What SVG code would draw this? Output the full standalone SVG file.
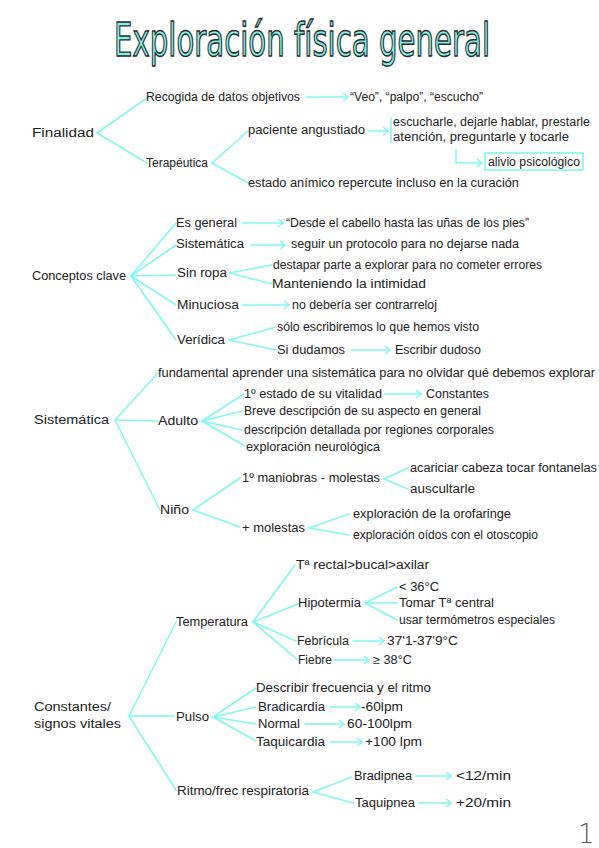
<svg xmlns="http://www.w3.org/2000/svg" width="599" height="848" viewBox="0 0 599 848">
<style>
.bg{fill:#ffffff}
.t{font-family:"Liberation Sans","DejaVu Sans",sans-serif;font-size:12px;fill:#222}
.ttl{font-family:"DejaVu Sans Condensed","DejaVu Sans","Liberation Sans",sans-serif;font-size:29px;fill:#7df5ea;stroke:#2a2a2a;stroke-width:0.9}
.c{stroke:#80f7f0;stroke-width:1.6;fill:none;stroke-linecap:round}
.a{marker-end:url(#ah)}
.box{fill:none;stroke:#80f7f0;stroke-width:1.6}
.pg{font-family:"DejaVu Sans ExtraLight","DejaVu Sans","Liberation Sans",sans-serif;font-size:26px;font-weight:200;fill:#555}
</style>
<defs>
<marker id="ah" markerWidth="8" markerHeight="10" refX="6" refY="5" orient="auto" markerUnits="userSpaceOnUse">
<path d="M1,1 L6,5 L1,9" fill="none" stroke="#80f7f0" stroke-width="1.6"/>
</marker>
</defs>
<rect class="bg" x="0" y="0" width="599" height="848"/>
<g id="title"><text class="ttl" transform="translate(114,56) scale(1,1.6)" x="0" y="0" textLength="376" lengthAdjust="spacingAndGlyphs">Exploración física general</text></g>

<g id="connectors">
<line class="c" x1="97" y1="133" x2="147" y2="98"/>
<line class="c" x1="97" y1="133" x2="147" y2="163"/>
<line class="c a" x1="307" y1="97" x2="348" y2="97"/>
<line class="c" x1="212" y1="163" x2="248" y2="131"/>
<line class="c" x1="212" y1="163" x2="248" y2="183"/>
<line class="c a" x1="368" y1="131" x2="388" y2="131"/>
<line class="c" x1="391" y1="118" x2="391" y2="143"/>
<polyline class="c a" points="456,150 456,163 482,163"/>

<line class="c" x1="131" y1="276" x2="176" y2="223"/>
<line class="c" x1="131" y1="276" x2="176" y2="245"/>
<line class="c" x1="131" y1="276" x2="176" y2="275"/>
<line class="c" x1="131" y1="276" x2="176" y2="305"/>
<line class="c" x1="131" y1="276" x2="176" y2="340"/>
<line class="c a" x1="243" y1="223" x2="283" y2="223"/>
<line class="c a" x1="251" y1="245" x2="285" y2="245"/>
<line class="c" x1="230" y1="273" x2="272" y2="265"/>
<line class="c" x1="230" y1="273" x2="272" y2="284"/>
<line class="c a" x1="243" y1="305" x2="289" y2="305"/>
<line class="c" x1="229" y1="340" x2="276" y2="327"/>
<line class="c" x1="229" y1="340" x2="276" y2="350"/>
<line class="c a" x1="352" y1="350" x2="390" y2="350"/>

<line class="c" x1="115" y1="420" x2="158" y2="373"/>
<line class="c" x1="115" y1="420" x2="158" y2="421"/>
<line class="c" x1="115" y1="420" x2="160" y2="510"/>
<line class="c" x1="202" y1="421" x2="244" y2="394"/>
<line class="c" x1="202" y1="421" x2="242" y2="411"/>
<line class="c" x1="202" y1="421" x2="242" y2="430"/>
<line class="c" x1="202" y1="421" x2="245" y2="446"/>
<line class="c a" x1="385" y1="394" x2="421" y2="394"/>
<line class="c" x1="193" y1="510" x2="240" y2="478"/>
<line class="c" x1="193" y1="510" x2="240" y2="527"/>
<line class="c" x1="384" y1="479" x2="408" y2="468"/>
<line class="c" x1="384" y1="479" x2="408" y2="489"/>
<line class="c" x1="309" y1="528" x2="349" y2="514"/>
<line class="c" x1="309" y1="528" x2="349" y2="535"/>

<line class="c" x1="129" y1="716" x2="176" y2="622"/>
<line class="c" x1="129" y1="716" x2="174" y2="716"/>
<line class="c" x1="129" y1="716" x2="176" y2="790"/>
<line class="c" x1="253" y1="622" x2="295" y2="565"/>
<line class="c" x1="253" y1="622" x2="298" y2="604"/>
<line class="c" x1="253" y1="622" x2="296" y2="641"/>
<line class="c" x1="253" y1="622" x2="298" y2="660"/>
<line class="c" x1="365" y1="603" x2="397" y2="587"/>
<line class="c" x1="365" y1="603" x2="397" y2="603"/>
<line class="c" x1="365" y1="603" x2="397" y2="620"/>
<line class="c a" x1="353" y1="641" x2="384" y2="641"/>
<line class="c a" x1="334" y1="660" x2="369" y2="660"/>
<line class="c" x1="213" y1="717" x2="256" y2="688"/>
<line class="c" x1="213" y1="717" x2="256" y2="707"/>
<line class="c" x1="213" y1="717" x2="256" y2="724"/>
<line class="c" x1="213" y1="717" x2="256" y2="741"/>
<line class="c a" x1="330" y1="707" x2="360" y2="707"/>
<line class="c a" x1="305" y1="724" x2="344" y2="724"/>
<line class="c a" x1="330" y1="742" x2="362" y2="742"/>
<line class="c" x1="313" y1="792" x2="352" y2="777"/>
<line class="c" x1="313" y1="792" x2="353" y2="803"/>
<line class="c a" x1="416" y1="776" x2="451" y2="776"/>
<line class="c a" x1="419" y1="803" x2="451" y2="803"/>
</g>

<g id="n-finalidad"><text class="t" x="32" y="137" textLength="62" lengthAdjust="spacingAndGlyphs">Finalidad</text></g>
<g id="n-recogida"><text class="t" x="146" y="101" textLength="154" lengthAdjust="spacingAndGlyphs">Recogida de datos objetivos</text></g>
<g id="n-veo"><text class="t" x="350" y="101" textLength="133" lengthAdjust="spacingAndGlyphs">“Veo”, “palpo”, “escucho”</text></g>
<g id="n-terapeutica"><text class="t" x="146" y="167" textLength="62" lengthAdjust="spacingAndGlyphs">Terapéutica</text></g>
<g id="n-paciente"><text class="t" x="248" y="134" textLength="117" lengthAdjust="spacingAndGlyphs">paciente angustiado</text></g>
<g id="n-escucharle"><text class="t" x="393" y="126" textLength="197" lengthAdjust="spacingAndGlyphs">escucharle, dejarle hablar, prestarle</text><text class="t" x="393" y="141" textLength="176" lengthAdjust="spacingAndGlyphs">atención, preguntarle y tocarle</text></g>
<g id="n-alivio"><rect class="box" x="485" y="153" width="98" height="17"/><text class="t" x="488" y="166" textLength="92" lengthAdjust="spacingAndGlyphs">alivio psicológico</text></g>
<g id="n-estado"><text class="t" x="248" y="187" textLength="271" lengthAdjust="spacingAndGlyphs">estado anímico repercute incluso en la curación</text></g>

<g id="n-conceptos"><text class="t" x="32" y="280" textLength="94" lengthAdjust="spacingAndGlyphs">Conceptos clave</text></g>
<g id="n-esgeneral"><text class="t" x="176" y="227" textLength="61" lengthAdjust="spacingAndGlyphs">Es general</text></g>
<g id="n-desde"><text class="t" x="286" y="227" textLength="243" lengthAdjust="spacingAndGlyphs">“Desde el cabello hasta las uñas de los pies”</text></g>
<g id="n-sistematica1"><text class="t" x="176" y="248" textLength="68" lengthAdjust="spacingAndGlyphs">Sistemática</text></g>
<g id="n-seguir"><text class="t" x="291" y="248" textLength="228" lengthAdjust="spacingAndGlyphs">seguir un protocolo para no dejarse nada</text></g>
<g id="n-sinropa"><text class="t" x="177" y="277" textLength="50" lengthAdjust="spacingAndGlyphs">Sin ropa</text></g>
<g id="n-destapar"><text class="t" x="273" y="269" textLength="269" lengthAdjust="spacingAndGlyphs">destapar parte a explorar para no cometer errores</text></g>
<g id="n-manteniendo"><text class="t" x="272" y="288" textLength="154" lengthAdjust="spacingAndGlyphs">Manteniendo la intimidad</text></g>
<g id="n-minuciosa"><text class="t" x="177" y="309" textLength="62" lengthAdjust="spacingAndGlyphs">Minuciosa</text></g>
<g id="n-nodeberia"><text class="t" x="292" y="309" textLength="145" lengthAdjust="spacingAndGlyphs">no debería ser contrarreloj</text></g>
<g id="n-veridica"><text class="t" x="177" y="344" textLength="48" lengthAdjust="spacingAndGlyphs">Verídica</text></g>
<g id="n-solo"><text class="t" x="277" y="331" textLength="202" lengthAdjust="spacingAndGlyphs">sólo escribiremos lo que hemos visto</text></g>
<g id="n-sidudamos"><text class="t" x="277" y="354" textLength="68" lengthAdjust="spacingAndGlyphs">Si dudamos</text></g>
<g id="n-escribir"><text class="t" x="395" y="354" textLength="86" lengthAdjust="spacingAndGlyphs">Escribir dudoso</text></g>

<g id="n-sistematica2"><text class="t" x="34" y="424" textLength="75" lengthAdjust="spacingAndGlyphs">Sistemática</text></g>
<g id="n-fundamental"><text class="t" x="158" y="377" textLength="437" lengthAdjust="spacingAndGlyphs">fundamental aprender una sistemática para no olvidar qué debemos explorar</text></g>
<g id="n-adulto"><text class="t" x="158" y="425" textLength="40" lengthAdjust="spacingAndGlyphs">Adulto</text></g>
<g id="n-vitalidad"><text class="t" x="244" y="398" textLength="138" lengthAdjust="spacingAndGlyphs">1º estado de su vitalidad</text></g>
<g id="n-constantes1"><text class="t" x="426" y="398" textLength="63" lengthAdjust="spacingAndGlyphs">Constantes</text></g>
<g id="n-breve"><text class="t" x="244" y="415" textLength="237" lengthAdjust="spacingAndGlyphs">Breve descripción de su aspecto en general</text></g>
<g id="n-detallada"><text class="t" x="244" y="434" textLength="250" lengthAdjust="spacingAndGlyphs">descripción detallada por regiones corporales</text></g>
<g id="n-neuro"><text class="t" x="246" y="451" textLength="134" lengthAdjust="spacingAndGlyphs">exploración neurológica</text></g>
<g id="n-nino"><text class="t" x="160" y="514" textLength="29" lengthAdjust="spacingAndGlyphs">Niño</text></g>
<g id="n-maniobras"><text class="t" x="242" y="482" textLength="138" lengthAdjust="spacingAndGlyphs">1º maniobras - molestas</text></g>
<g id="n-acariciar"><text class="t" x="410" y="472" textLength="187" lengthAdjust="spacingAndGlyphs">acariciar cabeza tocar fontanelas</text></g>
<g id="n-auscultarle"><text class="t" x="410" y="493" textLength="65" lengthAdjust="spacingAndGlyphs">auscultarle</text></g>
<g id="n-masmolestas"><text class="t" x="242" y="532" textLength="63" lengthAdjust="spacingAndGlyphs">+ molestas</text></g>
<g id="n-orofaringe"><text class="t" x="353" y="518" textLength="158" lengthAdjust="spacingAndGlyphs">exploración de la orofaringe</text></g>
<g id="n-oidos"><text class="t" x="353" y="539" textLength="185" lengthAdjust="spacingAndGlyphs">exploración oídos con el otoscopio</text></g>

<g id="n-constantes2"><text class="t" x="34" y="711" textLength="77" lengthAdjust="spacingAndGlyphs">Constantes/</text><text class="t" x="34" y="728" textLength="87" lengthAdjust="spacingAndGlyphs">signos vitales</text></g>
<g id="n-temperatura"><text class="t" x="176" y="626" textLength="72" lengthAdjust="spacingAndGlyphs">Temperatura</text></g>
<g id="n-rectal"><text class="t" x="296" y="569" textLength="133" lengthAdjust="spacingAndGlyphs">Tª rectal&gt;bucal&gt;axilar</text></g>
<g id="n-hipotermia"><text class="t" x="298" y="607" textLength="63" lengthAdjust="spacingAndGlyphs">Hipotermia</text></g>
<g id="n-36"><text class="t" x="399" y="591" textLength="40" lengthAdjust="spacingAndGlyphs">&lt; 36°C</text></g>
<g id="n-tomar"><text class="t" x="399" y="607" textLength="95" lengthAdjust="spacingAndGlyphs">Tomar Tª central</text></g>
<g id="n-usar"><text class="t" x="399" y="624" textLength="156" lengthAdjust="spacingAndGlyphs">usar termómetros especiales</text></g>
<g id="n-febricula"><text class="t" x="297" y="645" textLength="52" lengthAdjust="spacingAndGlyphs">Febrícula</text></g>
<g id="n-371"><text class="t" x="387" y="645" textLength="71" lengthAdjust="spacingAndGlyphs">37'1-37'9°C</text></g>
<g id="n-fiebre"><text class="t" x="298" y="664" textLength="34" lengthAdjust="spacingAndGlyphs">Fiebre</text></g>
<g id="n-38"><text class="t" x="373" y="664" textLength="39" lengthAdjust="spacingAndGlyphs">≥ 38°C</text></g>
<g id="n-pulso"><text class="t" x="176" y="721" textLength="33" lengthAdjust="spacingAndGlyphs">Pulso</text></g>
<g id="n-describir"><text class="t" x="256" y="692" textLength="175" lengthAdjust="spacingAndGlyphs">Describir frecuencia y el ritmo</text></g>
<g id="n-bradicardia"><text class="t" x="258" y="711" textLength="67" lengthAdjust="spacingAndGlyphs">Bradicardia</text></g>
<g id="n-60"><text class="t" x="361" y="711" textLength="42" lengthAdjust="spacingAndGlyphs">-60lpm</text></g>
<g id="n-normal"><text class="t" x="258" y="728" textLength="42" lengthAdjust="spacingAndGlyphs">Normal</text></g>
<g id="n-60100"><text class="t" x="347" y="728" textLength="65" lengthAdjust="spacingAndGlyphs">60-100lpm</text></g>
<g id="n-taquicardia"><text class="t" x="256" y="746" textLength="69" lengthAdjust="spacingAndGlyphs">Taquicardia</text></g>
<g id="n-100"><text class="t" x="365" y="746" textLength="57" lengthAdjust="spacingAndGlyphs">+100 lpm</text></g>
<g id="n-ritmo"><text class="t" x="177" y="795" textLength="132" lengthAdjust="spacingAndGlyphs">Ritmo/frec respiratoria</text></g>
<g id="n-bradipnea"><text class="t" x="354" y="780" textLength="58" lengthAdjust="spacingAndGlyphs">Bradipnea</text></g>
<g id="n-12"><text class="t" x="456" y="780" textLength="55" lengthAdjust="spacingAndGlyphs">&lt;12/min</text></g>
<g id="n-taquipnea"><text class="t" x="355" y="807" textLength="60" lengthAdjust="spacingAndGlyphs">Taquipnea</text></g>
<g id="n-20"><text class="t" x="456" y="807" textLength="55" lengthAdjust="spacingAndGlyphs">+20/min</text></g>
<g id="page"><text class="pg" x="578" y="843">1</text></g>
</svg>
